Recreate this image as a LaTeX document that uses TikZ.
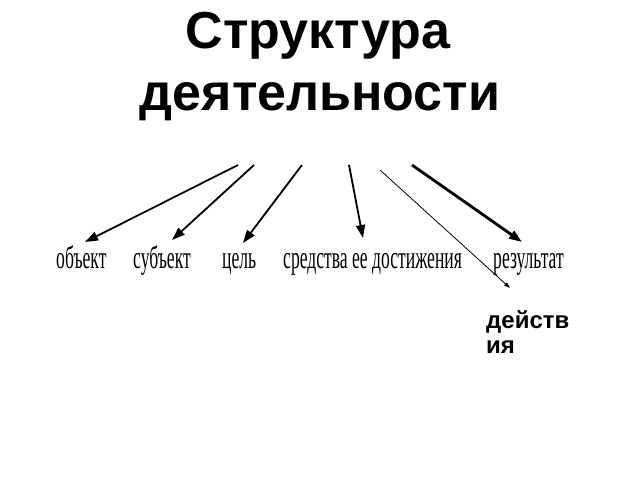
\documentclass[tikz,border=0pt]{standalone}
\usepackage{fontspec}
\setmainfont{Liberation Sans}
\newfontfamily\titlefont{Liberation Sans}
\newfontfamily\narrowserif[FakeStretch=0.55]{Liberation Serif}
\usetikzlibrary{arrows.meta}
\begin{document}
\begin{tikzpicture}[x=1pt,y=-1pt,
  titletext/.style={font=\titlefont\bfseries\fontsize{52}{54}\selectfont, inner sep=0pt},
  lbl/.style={font=\narrowserif\fontsize{32}{34}\selectfont, inner sep=0pt, anchor=base west},
  side/.style={font=\titlefont\bfseries\fontsize{24}{25}\selectfont, inner sep=0pt, anchor=base west, align=left},
  arr/.style={line width=1.8pt, -{Triangle[length=13pt,width=9pt]}},
  thickarr/.style={line width=2.8pt, -{Triangle[length=13pt,width=9pt]}},
  thinarr/.style={line width=0.8pt, -{Triangle[length=6pt,width=4pt]}}
]
\useasboundingbox[fill=white] (0,0) rectangle (640,480);
\node[titletext, anchor=base] (t1) at (318,48) {Структура};
\node[titletext, anchor=base] (t2) at (320,110) {деятельности};

\node[lbl] (obj) at (56,268) {объект};
\node[lbl] (subj) at (133,268) {субъект};
\node[lbl] (goal) at (222,268) {цель};
\node[lbl] (means) at (283,268) {средства ее достижения};
\node[lbl] (res) at (493,268) {результат};
\node[side] (act) at (486,353) {действ\\ия};

\coordinate (s1) at (238,165); \coordinate (e1) at (85,242);
\coordinate (s2) at (254,165); \coordinate (e2) at (172,240);
\coordinate (s3) at (302,165); \coordinate (e3) at (243,243);
\coordinate (s4) at (349,165); \coordinate (e4) at (363,238);
\coordinate (s5) at (380,170); \coordinate (e5) at (510,288);
\coordinate (s6) at (412,165); \coordinate (e6) at (522,242);

\draw[arr] (s1) -- (e1);
\draw[arr] (s2) -- (e2);
\draw[arr] (s3) -- (e3);
\draw[arr] (s4) -- (e4);
\draw[thinarr] (s5) -- (e5);
\draw[thickarr] (s6) -- (e6);
\end{tikzpicture}
\end{document}
